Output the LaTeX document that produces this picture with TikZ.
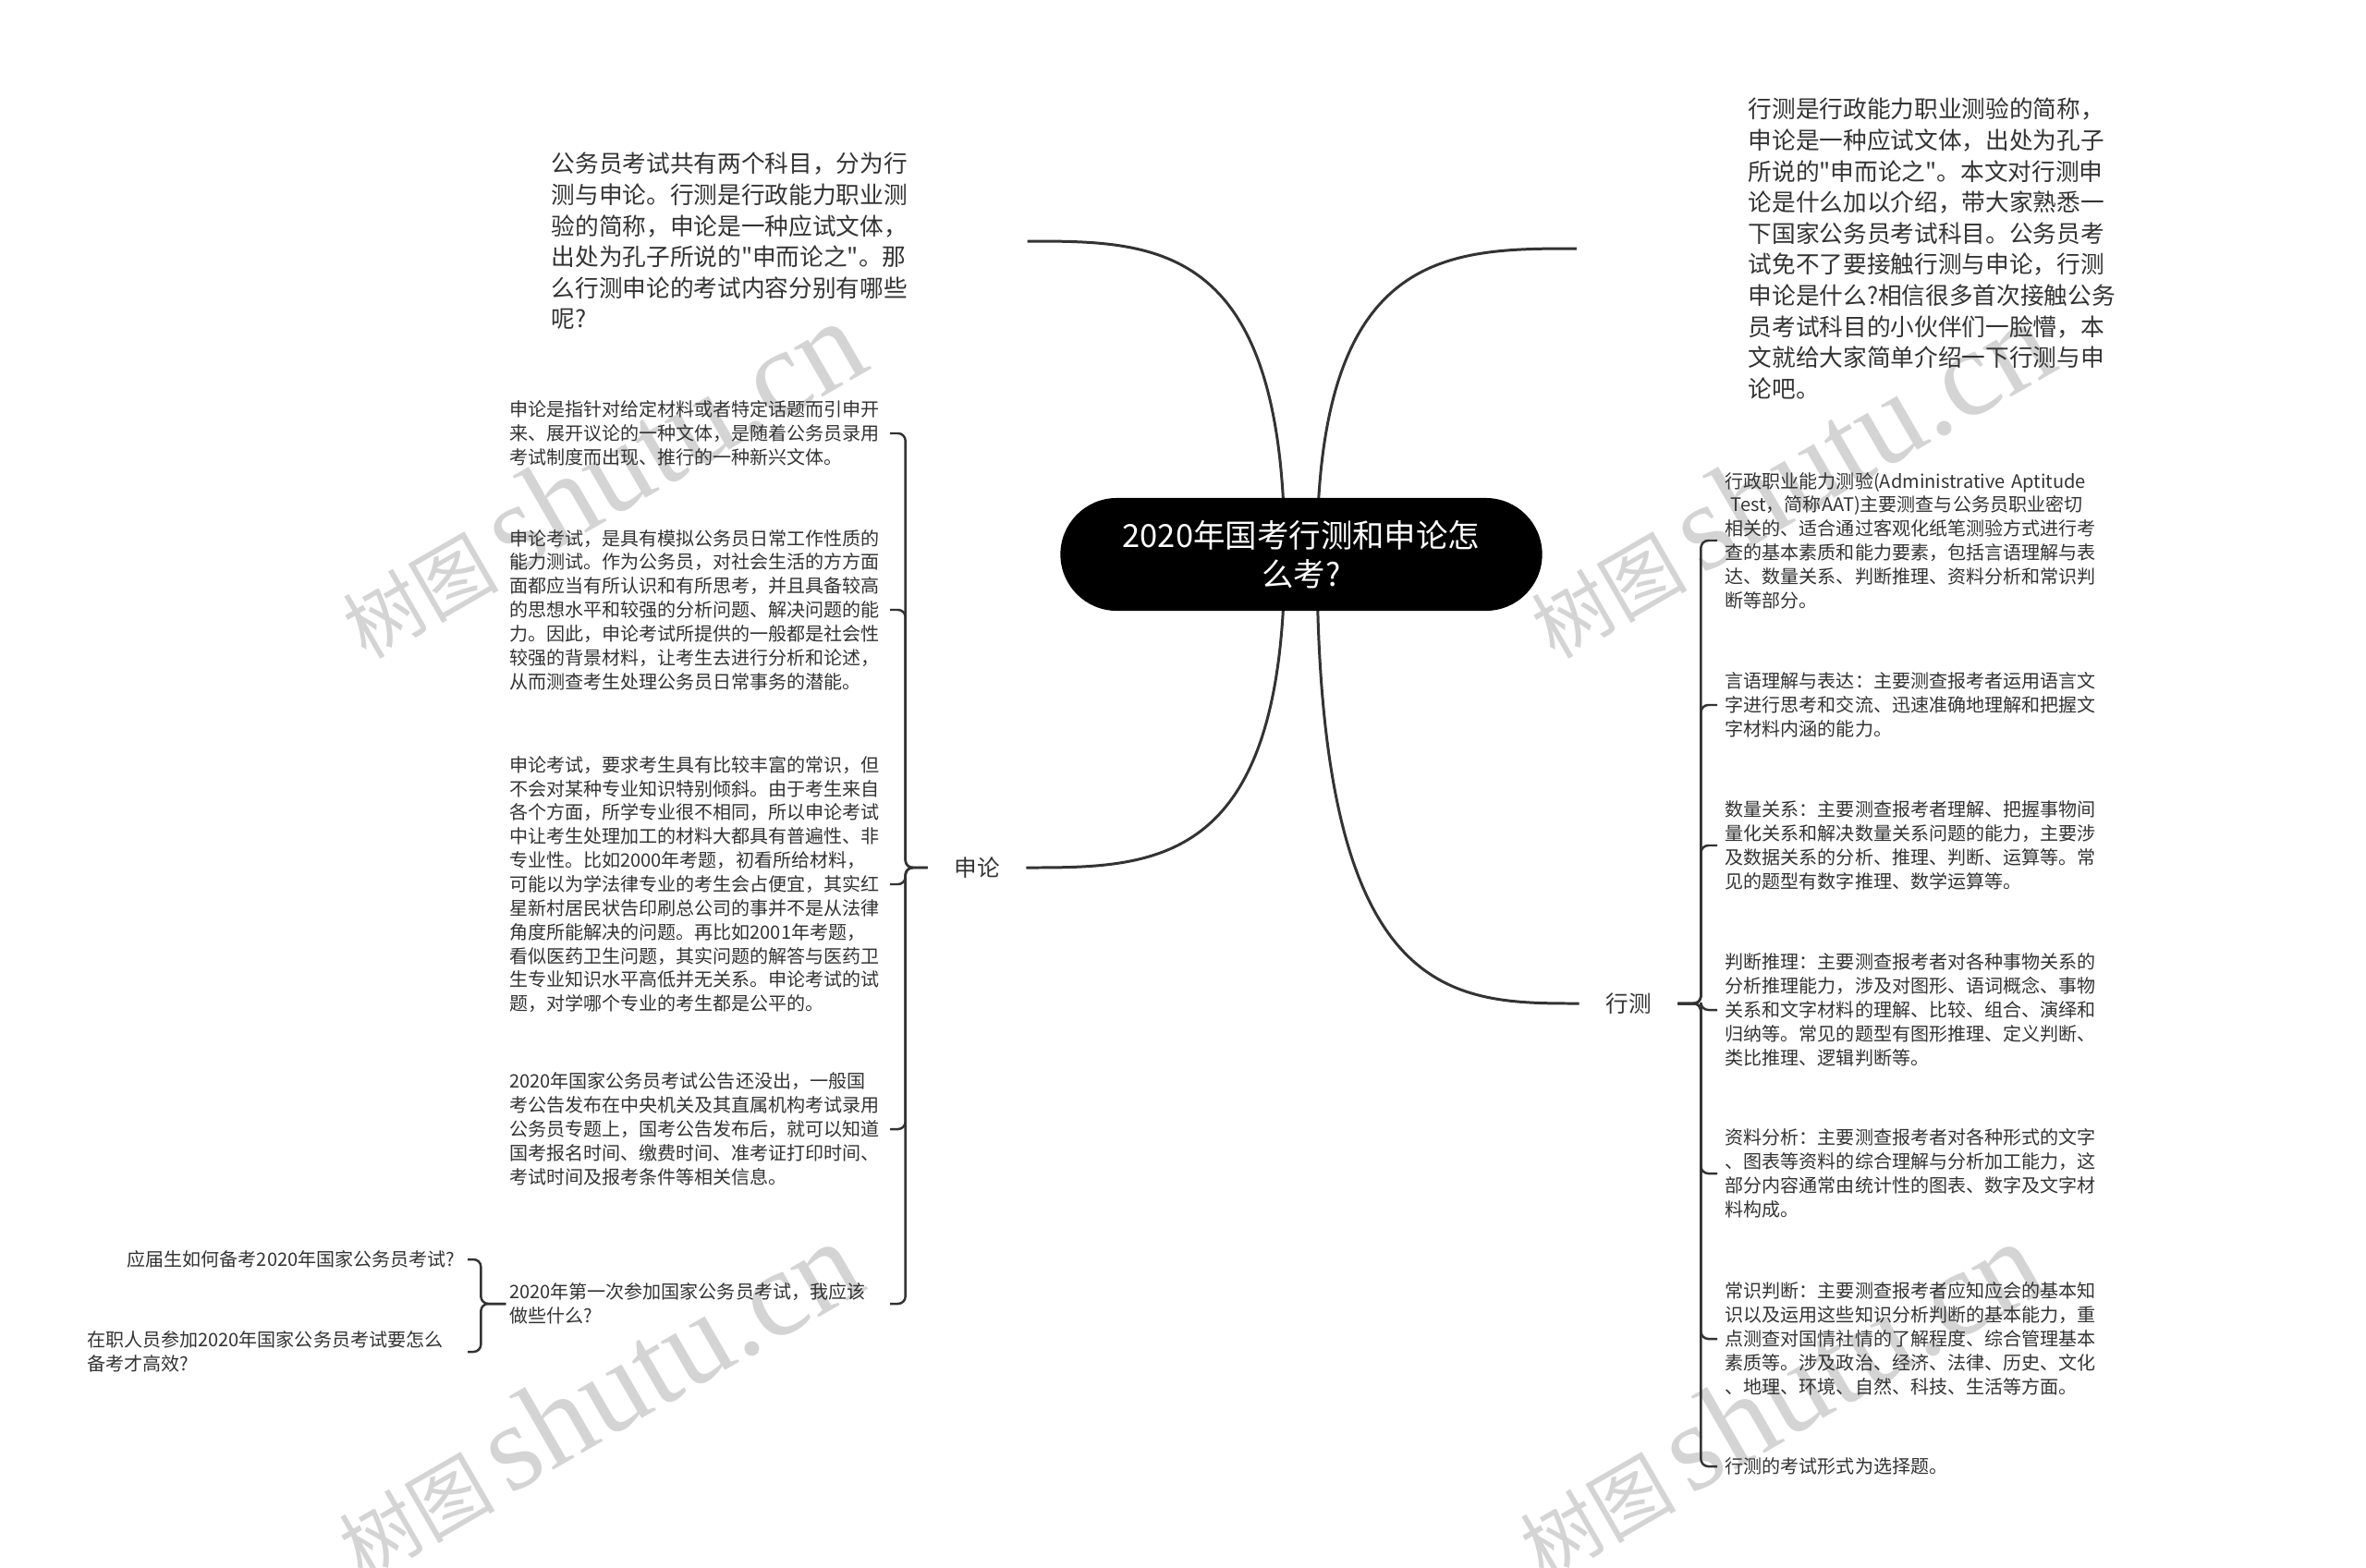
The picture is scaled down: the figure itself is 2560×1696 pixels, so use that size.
\documentclass[tikz,border=0pt]{standalone}
\usepackage{fontspec}
\setmainfont{Noto Sans CJK SC}[Ligatures=TeXOff]
\newfontfamily\wmfont{Liberation Serif}
\usetikzlibrary{
positioning,
backgrounds
}
\definecolor{MapInk}{HTML}{333333}
\definecolor{MapMark}{HTML}{D4D4D4}

\begin{document}
\begin{tikzpicture}[
    x=0.01cm,
    y=-0.01cm,
    mainline/.style={draw=MapInk, line width=0.85pt},
    branch/.style={draw=MapInk, line width=0.7pt, rounded corners=0.08cm},
    rootbox/.style={fill=black, text=white, rounded corners=0.61cm,
        minimum width=5.21cm, minimum height=1.22cm, align=center,
        font={\fontsize{9.8pt}{12pt}\selectfont}},
    intro/.style={text=MapInk, inner sep=0pt, anchor=west, align=left,
        font={\fontsize{7.3pt}{9.55pt}\selectfont}},
    topic/.style={text=MapInk, inner xsep=0.28cm,
        font={\fontsize{7pt}{8pt}\selectfont}},
    leafL/.style={text=MapInk, anchor=east, text width=4.08cm,
        inner xsep=0.03cm, inner ysep=0.02cm, align=left,
        font={\fontsize{5.7pt}{7.35pt}\selectfont}},
    leafR/.style={text=MapInk, anchor=west, text width=4.1cm,
        inner xsep=0.08cm, inner ysep=0.02cm, align=left,
        font={\fontsize{5.7pt}{7.35pt}\selectfont}},
    question/.style={text=MapInk, anchor=east, inner xsep=0.13cm,
        inner ysep=0.02cm, align=left,
        font={\fontsize{5.7pt}{7.35pt}\selectfont}},
    watermark/.style={text=MapMark, rotate=30, inner sep=0pt}
]

% Page
\useasboundingbox (0,0) rectangle (2560,1696);

% Root
\node[rootbox] (root) at (1408,600)
{2020年国考行测和申论怎\\么考?};

% Intro texts
\node[
    intro,
    text width=3.9cm
]
(introL) at (596,261)
{公务员考试共有两个科目，分为行\\
测与申论。行测是行政能力职业测\\
验的简称，申论是一种应试文体，\\
出处为孔子所说的"申而论之"。那\\
么行测申论的考试内容分别有哪些\\
呢?};

\node[
    intro,
    text width=4.05cm
]
(introR) at (1891,269)
{行测是行政能力职业测验的简称，\\
申论是一种应试文体，出处为孔子\\
所说的"申而论之"。本文对行测申\\
论是什么加以介绍，带大家熟悉一\\
下国家公务员考试科目。公务员考\\
试免不了要接触行测与申论，行测\\
申论是什么?相信很多首次接触公务\\
员考试科目的小伙伴们一脸懵，本\\
文就给大家简单介绍一下行测与申\\
论吧。};

\coordinate (introLin) at ([xshift=1.24cm]introL.east);
\coordinate (introRin) at ([xshift=-1.85cm]introR.west);

% Main topics
\node[topic] (shenlun) at (1057,939) {申论};
\node[topic] (xingce) at (1762,1086) {行测};

% Left leaves
\node[leafL] (L1) at (963,469)
{申论是指针对给定材料或者特定话题而引申开\\
来、展开议论的一种文体，是随着公务员录用\\
考试制度而出现、推行的一种新兴文体。};

\node[leafL] (L2) at (963,660)
{申论考试，是具有模拟公务员日常工作性质的\\
能力测试。作为公务员，对社会生活的方方面\\
面都应当有所认识和有所思考，并且具备较高\\
的思想水平和较强的分析问题、解决问题的能\\
力。因此，申论考试所提供的一般都是社会性\\
较强的背景材料，让考生去进行分析和论述，\\
从而测查考生处理公务员日常事务的潜能。};

\node[leafL] (L3) at (963,957)
{申论考试，要求考生具有比较丰富的常识，但\\
不会对某种专业知识特别倾斜。由于考生来自\\
各个方面，所学专业很不相同，所以申论考试\\
中让考生处理加工的材料大都具有普遍性、非\\
专业性。比如2000年考题，初看所给材料，\\
可能以为学法律专业的考生会占便宜，其实红\\
星新村居民状告印刷总公司的事并不是从法律\\
角度所能解决的问题。再比如2001年考题，\\
看似医药卫生问题，其实问题的解答与医药卫\\
生专业知识水平高低并无关系。申论考试的试\\
题，对学哪个专业的考生都是公平的。};

\node[leafL] (L4) at (963,1222)
{2020年国家公务员考试公告还没出，一般国\\
考公告发布在中央机关及其直属机构考试录用\\
公务员专题上，国考公告发布后，就可以知道\\
国考报名时间、缴费时间、准考证打印时间、\\
考试时间及报考条件等相关信息。};

\node[leafL] (L5) at (963,1411)
{2020年第一次参加国家公务员考试，我应该\\
做些什么?};

% Questions under L5
\node[question] (C1) at (506,1363)
{应届生如何备考2020年国家公务员考试?};

\node[question, text width=3.98cm] (C2) at (506,1463)
{在职人员参加2020年国家公务员考试要怎么\\
备考才高效?};

% Right leaves
\node[leafR] (R1) at (1858,585)
{行政职业能力测验(Administrative Aptitude\\
\hspace*{0.3em}Test，简称AAT)主要测查与公务员职业密切\\
相关的、适合通过客观化纸笔测验方式进行考\\
查的基本素质和能力要素，包括言语理解与表\\
达、数量关系、判断推理、资料分析和常识判\\
断等部分。};

\node[leafR] (R2) at (1858,763)
{言语理解与表达：主要测查报考者运用语言文\\
字进行思考和交流、迅速准确地理解和把握文\\
字材料内涵的能力。};

\node[leafR] (R3) at (1858,915)
{数量关系：主要测查报考者理解、把握事物间\\
量化关系和解决数量关系问题的能力，主要涉\\
及数据关系的分析、推理、判断、运算等。常\\
见的题型有数字推理、数学运算等。};

\node[leafR] (R4) at (1858,1093)
{判断推理：主要测查报考者对各种事物关系的\\
分析推理能力，涉及对图形、语词概念、事物\\
关系和文字材料的理解、比较、组合、演绎和\\
归纳等。常见的题型有图形推理、定义判断、\\
类比推理、逻辑判断等。};

\node[leafR] (R5) at (1858,1270)
{资料分析：主要测查报考者对各种形式的文字\\
、图表等资料的综合理解与分析加工能力，这\\
部分内容通常由统计性的图表、数字及文字材\\
料构成。};

\node[leafR] (R6) at (1858,1449)
{常识判断：主要测查报考者应知应会的基本知\\
识以及运用这些知识分析判断的基本能力，重\\
点测查对国情社情的了解程度、综合管理基本\\
素质等。涉及政治、经济、法律、历史、文化\\
、地理、环境、自然、科技、生活等方面。};

\node[leafR] (R7) at (1858,1587)
{行测的考试形式为选择题。};

% Junction points
\coordinate (rootL) at ([xshift=-0.18cm]root.center);
\coordinate (rootR) at ([xshift=0.17cm]root.center);
\coordinate (trunkL) at ([xshift=-0.24cm]shenlun.west);
\coordinate (trunkR) at ([xshift=0.25cm]xingce.east);
\coordinate (trunkQ) at ([xshift=-0.27cm]L5.west);

\begin{scope}[on background layer]

% Watermarks
\foreach \wx/\wy [count=\i] in {649/519, 1935/519, 645/1515, 1923/1515}{
    \node[watermark] (wm\i) at (\wx,\wy)
    {{\fontsize{24pt}{24pt}\selectfont 树图}\hspace{0.45em}%
     {\wmfont\fontsize{38pt}{38pt}\selectfont shutu.cn}};
}

% Main curves
\draw[mainline] (rootL) .. controls (rootL |- introLin) and ([xshift=1.4cm]introLin) .. (introLin);
\draw[mainline] (rootL) .. controls (rootL |- shenlun.east) and ([xshift=1.4cm]shenlun.east) .. (shenlun.east);
\draw[mainline] (rootR) .. controls (rootR |- introRin) and ([xshift=-1.4cm]introRin) .. (introRin);
\draw[mainline] (rootR) .. controls (rootR |- xingce.west) and ([xshift=-1.4cm]xingce.west) .. (xingce.west);

% Brackets
\foreach \n in {L1,L2,L3,L4,L5}{
    \draw[branch] (shenlun.west) -- (trunkL) |- (\n.east);
}
\foreach \n in {R1,R2,R3,R4,R5,R6,R7}{
    \draw[branch] (xingce.east) -- (trunkR) |- (\n.west);
}
\foreach \n in {C1,C2}{
    \draw[branch] (L5.west) -- (trunkQ) |- (\n.east);
}

\end{scope}

\end{tikzpicture}
\end{document}
